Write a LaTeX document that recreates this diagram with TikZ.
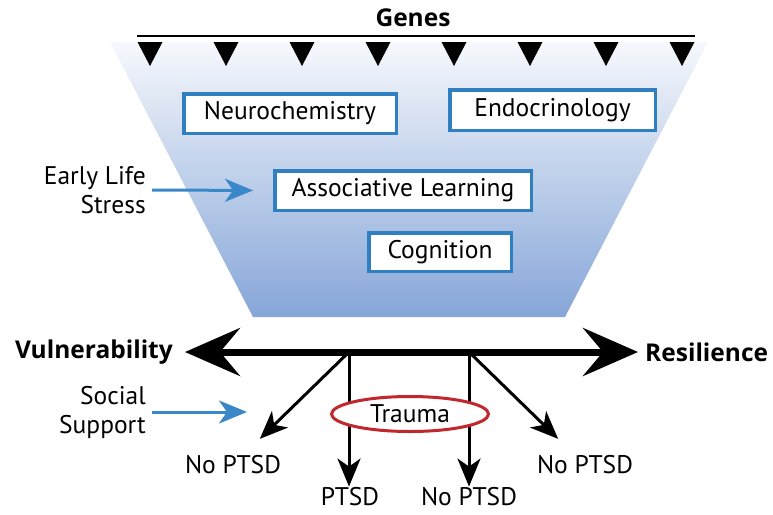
\documentclass[tikz,border=0pt]{standalone}
\usepackage{fontspec}
\setmainfont{PT Sans}
\newfontfamily\polefont{Open Sans}
\usepackage{tikz}
\usetikzlibrary{positioning, arrows.meta, shapes.geometric}
\definecolor{boxblue}{HTML}{2F7FC1}
\definecolor{arrowblue}{HTML}{3A88C9}
\definecolor{traumared}{HTML}{C1272D}
\definecolor{funneltop}{HTML}{F6F8FC}
\definecolor{funnelbot}{HTML}{86A6D8}
\newcommand{\txt}{\fontsize{25.5}{29}\selectfont}

\tikzset{
    factor/.style={draw=boxblue, line width=3.5pt, fill=white, inner sep=0pt, font=\txt},
    lbl/.style={inner sep=0pt, font=\txt},
    pole/.style={inner sep=0pt, font=\polefont\fontsize{24.5}{28}\selectfont\bfseries},
    bluearrow/.style={draw=arrowblue, line width=3pt, -{Stealth[length=28pt, width=23pt, inset=8pt]}},
    outarrow/.style={line width=3pt, -{Stealth[length=28pt, width=23pt, inset=8pt]}},
    bigarrow/.style={line width=7pt, {Stealth[length=55pt, width=48pt, inset=20pt]}-{Stealth[length=55pt, width=48pt, inset=20pt]}}
}

\begin{document}
\begin{tikzpicture}[x=1pt, y=-1pt]
    \useasboundingbox (0,0) rectangle (773,514);
    % Funnel
    \shade[top color=funneltop, bottom color=funnelbot] (110,42) -- (708,42) -- (565,317) -- (253,317) -- cycle;
    % Genes
    \node[pole] (genes) at (413,18) {Genes};
    \draw[line width=2.5pt] (137,36) -- (695,36);
    \foreach \i in {0,...,7}
        \fill ({150+76*\i-12.5},42) -- ({150+76*\i+12.5},42) -- ({150+76*\i},66) -- cycle;
    % Factors in the funnel
    \node[factor, minimum width=212.5pt, minimum height=39.5pt] (neuro) at (290,113.5) {Neurochemistry};
    \node[factor, minimum width=205.5pt, minimum height=40.5pt] (endo) at (552.5,110) {Endocrinology};
    \node[factor, minimum width=256.5pt, minimum height=39.5pt] (assoc) at (403,190.5) {Associative Learning};
    \node[factor, minimum width=142.5pt, minimum height=38.5pt] (cog) at (440,252) {Cognition};
    % Early life stress
    \node[lbl, align=right, anchor=east] (els) at (146,190) {Early Life\\Stress};
    \draw[bluearrow, shorten <=6pt, shorten >=20pt] (els.east) -- (assoc.west);
    % Vulnerability -- resilience axis
    \node[pole, anchor=east] (vul) at (173,352) {Vulnerability};
    \node[pole, anchor=west] (res) at (645,352) {Resilience};
    \draw[bigarrow, shorten <=12pt, shorten >=7pt] (vul.east) -- (res.west);
    \coordinate (jL) at (349,352);
    \coordinate (jR) at (469,352);
    % Social support
    \node[lbl, align=right, anchor=east] (social) at (146,412) {Social\\Support};
    \coordinate (socialTip) at (247,412);
    \draw[bluearrow, shorten <=6pt] (social.east) -- (socialTip);
    % Outcomes
    \node[lbl] (noL) at (233,465) {No PTSD};
    \node[lbl] (ptsd) at (350,497) {PTSD};
    \node[lbl] (noM) at (469,497) {No PTSD};
    \node[lbl] (noR) at (585,465) {No PTSD};
    \draw[outarrow, shorten >=24pt] (jL) -- (noL);
    \draw[outarrow, shorten >=1pt] (jL) -- (jL |- ptsd.north);
    \draw[outarrow, shorten >=1pt] (jR) -- (noM);
    \draw[outarrow, shorten >=24pt] (jR) -- (noR);
    % Trauma
    \node[ellipse, draw=traumared, line width=3pt, fill=white, minimum width=157pt, minimum height=35pt, inner sep=0pt, font=\txt] (trauma) at (410,414) {Trauma};
\end{tikzpicture}
\end{document}
